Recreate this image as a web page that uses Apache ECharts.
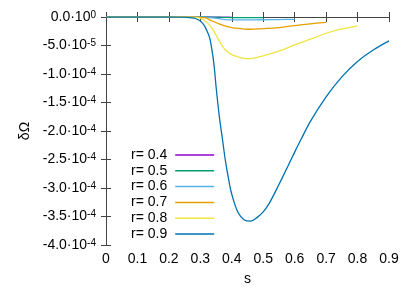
<!DOCTYPE html>
<html><head><meta charset="utf-8">
<script src="https://cdn.jsdelivr.net/npm/echarts@6/dist/echarts.min.js"></script>
<style>html,body{margin:0;padding:0;background:#fff}#c{width:415px;height:291px}</style>
</head><body><div id="c"></div>
<script>
// δΩ values in units of 1e-5
const s04 = [0, 0.1, 0.2, 0.3, 0.35, 0.4];
const v04 = [0, 0, 0, 0, -0.01, -0.02];
const s05 = [0, 0.1, 0.2, 0.3, 0.34, 0.36, 0.38, 0.40, 0.45, 0.50];
const v05 = [0, 0, 0, 0, -0.01, -0.03, -0.07, -0.1, -0.12, -0.12];
const s06 = [0, 0.1, 0.2, 0.3, 0.32, 0.34, 0.36, 0.38, 0.40, 0.45, 0.50, 0.55, 0.60];
const v06 = [0, 0, 0, 0, -0.05, -0.15, -0.3, -0.45, -0.5, -0.5, -0.48, -0.45, -0.4];
const s07 = [0, 0.1, 0.2, 0.28, 0.30, 0.32, 0.33, 0.34, 0.36, 0.38, 0.40, 0.42, 0.45, 0.48, 0.50, 0.55, 0.60, 0.65, 0.70];
const v07 = [0, 0, 0, 0, -0.05, -0.2, -0.5, -0.75, -1.2, -1.6, -1.85, -2.0, -2.15, -2.1, -2.05, -1.85, -1.5, -1.2, -0.93];
const s08 = [0, 0.1, 0.2, 0.26, 0.28, 0.30, 0.32, 0.34, 0.36, 0.38, 0.40, 0.42, 0.44, 0.46, 0.48, 0.50, 0.55, 0.60, 0.65, 0.70, 0.75, 0.80];
const v08 = [0, 0, 0, -0.01, -0.05, -0.2, -0.9, -2.2, -4.2, -5.8, -6.6, -7.0, -7.25, -7.3, -7.1, -6.8, -6.0, -4.9, -3.9, -2.85, -2.1, -1.55];
const s09 = [0, 0.1, 0.2, 0.24, 0.26, 0.28, 0.29, 0.30, 0.31, 0.32, 0.33, 0.34, 0.345, 0.35, 0.36, 0.37, 0.38, 0.39, 0.40, 0.42, 0.44, 0.46, 0.48, 0.50, 0.52, 0.55, 0.58, 0.60, 0.62, 0.65, 0.70, 0.75, 0.80, 0.85, 0.90];
const v09 = [0, 0, 0, -0.02, -0.08, -0.2, -0.4, -0.7, -1.3, -2.3, -3.7, -6.9, -9.2, -12.2, -17.3, -21.3, -25.3, -28.5, -31.1, -34.3, -35.6, -35.8, -35.2, -34.2, -32.6, -29.4, -26.0, -23.7, -21.5, -18.3, -14.0, -10.5, -7.8, -5.8, -4.2];
const names = ['r= 0.4', 'r= 0.5', 'r= 0.6', 'r= 0.7', 'r= 0.8', 'r= 0.9'];
const colors = ['#9400d3', '#009e73', '#56b4e9', '#e69f00', '#f0e442', '#0072b2'];
const xTicks = [0, 0.1, 0.2, 0.3, 0.4, 0.5, 0.6, 0.7, 0.8, 0.9];

const S = [s04, s05, s06, s07, s08, s09];
const V = [v04, v05, v06, v07, v08, v09];
const FONT = 'Liberation Sans, Arial, sans-serif';
const AX = '#444';

function yFmt(v) {
  const r = Math.round(v * 100) / 100;
  if (r === 0) return '0.0·10{sup|0}';
  const a = Math.abs(r);
  let m, e;
  if (a < 10) { m = a; e = -5; } else { m = a / 10; e = -4; }
  return '-' + m.toFixed(1) + '·10{sup|' + e + '}';
}

const chart = echarts.init(document.getElementById('c'), null, {renderer: 'canvas'});
const series = names.map((n, i) => ({
  name: n, type: 'line', showSymbol: false, symbol: 'none',
  smooth: 0.35,
  data: S[i].map((s, j) => [s, V[i][j]]),
  lineStyle: {width: 1.3, color: colors[i]}, itemStyle: {color: colors[i]},
  emphasis: {disabled: true}, animation: false, z: 2 + i
}));
chart.setOption({
  animation: false,
  textStyle: {fontFamily: FONT},
  grid: {left: 106, right: 26, top: 17, bottom: 46, containLabel: false},
  legend: {
    orient: 'vertical', left: 126, top: 143, align: 'right',
    itemWidth: 39, itemHeight: 1.5, itemGap: 1.8, icon: 'rect',
    data: names,
    textStyle: {fontSize: 14, color: '#000', fontFamily: FONT, padding: [0, 3, 0, 0], lineHeight: 14},
    selectedMode: false
  },
  xAxis: [{
    type: 'value', min: 0, max: 0.9, interval: 0.1,
    name: 's', nameLocation: 'middle', nameGap: 27,
    nameTextStyle: {fontSize: 14, color: '#000', fontFamily: FONT},
    axisLine: {show: true, lineStyle: {color: AX, width: 1}},
    axisTick: {show: true, inside: true, length: 5, lineStyle: {color: AX}},
    splitLine: {show: false},
    axisLabel: {fontSize: 14, color: '#000', margin: 7, fontFamily: FONT,
      formatter: v => { const r = Math.round(v * 10) / 10; return r === 0 ? '0' : r.toFixed(1); }}
  }, {
    type: 'value', position: 'top', min: 0, max: 0.9, interval: 0.1,
    axisLine: {show: true, lineStyle: {color: AX, width: 1}},
    axisTick: {show: true, inside: true, length: 5, lineStyle: {color: AX}},
    axisLabel: {show: false}, splitLine: {show: false}
  }],
  yAxis: [{
    type: 'value', min: -40, max: 0, interval: 5,
    name: 'δΩ', nameLocation: 'middle', nameGap: 67, nameRotate: 90,
    nameTextStyle: {fontSize: 14, color: '#000', fontFamily: FONT},
    axisLine: {show: true, lineStyle: {color: AX, width: 1}},
    axisTick: {show: true, inside: true, length: 5, lineStyle: {color: AX}},
    splitLine: {show: false},
    axisLabel: {fontSize: 14, color: '#000', margin: 10, fontFamily: FONT,
      formatter: yFmt,
      rich: {sup: {fontSize: 10, verticalAlign: 'top', lineHeight: 10, padding: [0, 0, 6, 0], fontFamily: FONT}}}
  }, {
    type: 'value', position: 'right', min: -40, max: 0, interval: 5,
    axisLine: {show: true, lineStyle: {color: AX, width: 1}},
    axisTick: {show: true, inside: true, length: 5, lineStyle: {color: AX}},
    axisLabel: {show: false}, splitLine: {show: false}
  }],
  series: series
});
</script></body></html>
